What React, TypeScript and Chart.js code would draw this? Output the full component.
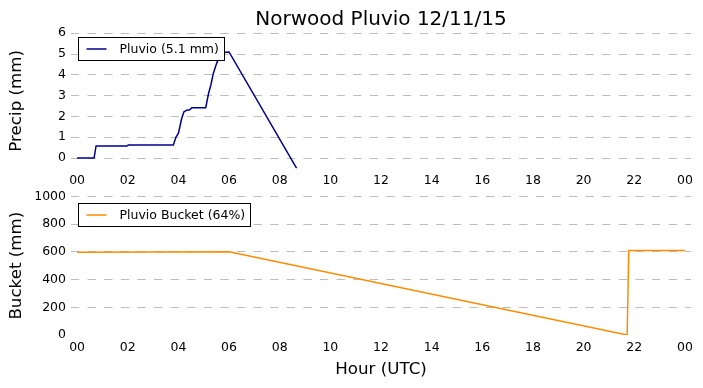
import React, { useEffect, useRef } from "react";
import { Chart, registerables } from "chart.js";

Chart.register(...registerables);

const FONT = "'DejaVu Sans', 'Liberation Sans', sans-serif";

const chartTitle = "Norwood Pluvio 12/11/15";
const hourTicks = [0, 2, 4, 6, 8, 10, 12, 14, 16, 18, 20, 22, 24];
const precipTicks = [0, 1, 2, 3, 4, 5, 6];
const bucketTicks = [0, 200, 400, 600, 800, 1000];

const pluvioLabel = "Pluvio (5.1 mm)";
const pluvioHours = [0, 0.67, 0.75, 1.96, 2.03, 3.8, 3.91, 4.0, 4.13, 4.22, 4.33, 4.45, 4.53, 5.08, 5.19, 5.28, 5.38, 5.51, 5.65, 5.75, 6.0, 8.67];
const pluvioPrecip = [0, 0, 0.58, 0.58, 0.62, 0.62, 1.02, 1.18, 1.9, 2.22, 2.3, 2.32, 2.42, 2.42, 3.1, 3.5, 4.07, 4.55, 4.95, 5.07, 5.1, -0.5];

const bucketLabel = "Pluvio Bucket (64%)";
const bucketHours = [0, 6.0, 21.72, 21.78, 24];
const bucketMm = [596, 601, 0, 610, 610];

const hourFmt = (v: number) => String(Math.round(v) % 24).padStart(2, "0");

const boxLegend = {
  id: "boxLegend",
  afterDatasetsDraw(chart: any, _args: any, opts: any) {
    const { ctx, chartArea } = chart;
    const ds = chart.data.datasets[0];
    ctx.save();
    ctx.font = `12.5px ${FONT}`;
    const tw = ctx.measureText(ds.label).width;
    const x = Math.round(chartArea.left + opts.dx) + 0.5;
    const y = Math.round(chartArea.top + opts.dy) + 0.5;
    const w = Math.round(41 + tw + 5.5);
    const h = 23;
    ctx.fillStyle = "#ffffff";
    ctx.fillRect(x, y, w, h);
    ctx.strokeStyle = "#000000";
    ctx.lineWidth = 1;
    ctx.strokeRect(x, y, w, h);
    ctx.strokeStyle = ds.borderColor;
    ctx.lineWidth = 1.5;
    ctx.beginPath();
    ctx.moveTo(x + 8, y + h / 2);
    ctx.lineTo(x + 28, y + h / 2);
    ctx.stroke();
    ctx.fillStyle = "#000000";
    ctx.textBaseline = "middle";
    ctx.textAlign = "left";
    ctx.fillText(ds.label, x + 41, y + h / 2 + 0.5);
    ctx.restore();
  },
};

const gridColor = "#bdbdbd";

function xScale(height: number, withTitle: boolean) {
  return {
    type: "linear",
    min: -0.24,
    max: 24.24,
    afterBuildTicks: (s: any) => {
      s.ticks = hourTicks.map((v) => ({ value: v }));
    },
    afterFit: (s: any) => {
      s.height = height;
    },
    grid: { display: false, drawTicks: false },
    border: { display: false },
    ticks: {
      padding: 5,
      maxRotation: 0,
      autoSkip: false,
      color: "#000",
      font: { family: FONT, size: 12.5 },
      callback: (v: any) => hourFmt(Number(v)),
    },
    title: {
      display: withTitle,
      text: "Hour (UTC)",
      color: "#000",
      font: { family: FONT, size: 16.7 },
      padding: { top: 0, bottom: 8 },
    },
  };
}

function yScale(min: number, max: number, ticks: number[], title: string, hideZero: boolean) {
  return {
    type: "linear",
    min,
    max,
    afterBuildTicks: (s: any) => {
      s.ticks = ticks.map((v) => ({ value: v }));
    },
    afterFit: (s: any) => {
      s.width = 71;
    },
    grid: {
      color: (c: any) => (hideZero && c.tick && c.tick.value === 0 ? "rgba(0,0,0,0)" : gridColor),
      lineWidth: 1,
      drawTicks: false,
    },
    border: { display: false, dash: [8.3, 8.3] },
    ticks: {
      padding: 5,
      color: "#000",
      font: { family: FONT, size: 12.5 },
      callback: (v: any) => String(v),
    },
    title: {
      display: true,
      text: title,
      color: "#000",
      font: { family: FONT, size: 16.7 },
      padding: { top: 7, bottom: 0 },
    },
  };
}

function topConfig(): any {
  return {
    type: "line",
    data: {
      datasets: [
        {
          label: pluvioLabel,
          data: pluvioHours.map((h, i) => ({ x: h, y: pluvioPrecip[i] })),
          borderColor: "#00008b",
          borderWidth: 1.5,
          pointRadius: 0,
          fill: false,
          tension: 0,
        },
      ],
    },
    options: {
      responsive: false,
      animation: false,
      layout: { padding: { left: 0, right: 12, top: 0, bottom: 0 } },
      scales: {
        x: xScale(192 - 168.4, false),
        y: yScale(-0.5, 6, precipTicks, "Precip (mm)", false),
      },
      plugins: {
        legend: { display: false },
        tooltip: { enabled: false },
        title: {
          display: true,
          text: chartTitle,
          fullSize: false,
          color: "#000",
          font: { family: FONT, size: 20, weight: "normal" },
          padding: { top: 8.1, bottom: 1.1 },
        },
        boxLegend: { dx: 6.5, dy: 3.5 },
      },
    },
    plugins: [boxLegend],
  };
}

function bottomConfig(): any {
  return {
    type: "line",
    data: {
      datasets: [
        {
          label: bucketLabel,
          data: bucketHours.map((h, i) => ({ x: h, y: bucketMm[i] })),
          borderColor: "#ff8c00",
          borderWidth: 1.5,
          pointRadius: 0,
          fill: false,
          tension: 0,
        },
      ],
    },
    options: {
      responsive: false,
      animation: false,
      layout: { padding: { left: 0, right: 12, top: 13.3, bottom: 0 } },
      scales: {
        x: xScale(53, true),
        y: yScale(0, 1000, bucketTicks, "Bucket (mm)", true),
      },
      plugins: {
        legend: { display: false },
        tooltip: { enabled: false },
        title: { display: false },
        boxLegend: { dx: 6.5, dy: 6.4 },
      },
    },
    plugins: [boxLegend],
  };
}

export default function App() {
  const topRef = useRef<HTMLCanvasElement>(null);
  const botRef = useRef<HTMLCanvasElement>(null);

  useEffect(() => {
    Chart.defaults.font.family = FONT;
    Chart.defaults.color = "#000";
    const c1 = new Chart(topRef.current as HTMLCanvasElement, topConfig());
    const c2 = new Chart(botRef.current as HTMLCanvasElement, bottomConfig());
    return () => {
      c1.destroy();
      c2.destroy();
    };
  }, []);

  return (
    <div style={{ position: "absolute", left: 0, top: 0, width: 703, height: 388, background: "#ffffff", overflow: "hidden" }}>
      <canvas
        ref={topRef}
        width={703}
        height={192}
        style={{ position: "absolute", left: 0, top: 0, width: 703, height: 192, display: "block" }}
      />
      <canvas
        ref={botRef}
        width={703}
        height={205}
        style={{ position: "absolute", left: 0, top: 183, width: 703, height: 205, display: "block" }}
      />
    </div>
  );
}
